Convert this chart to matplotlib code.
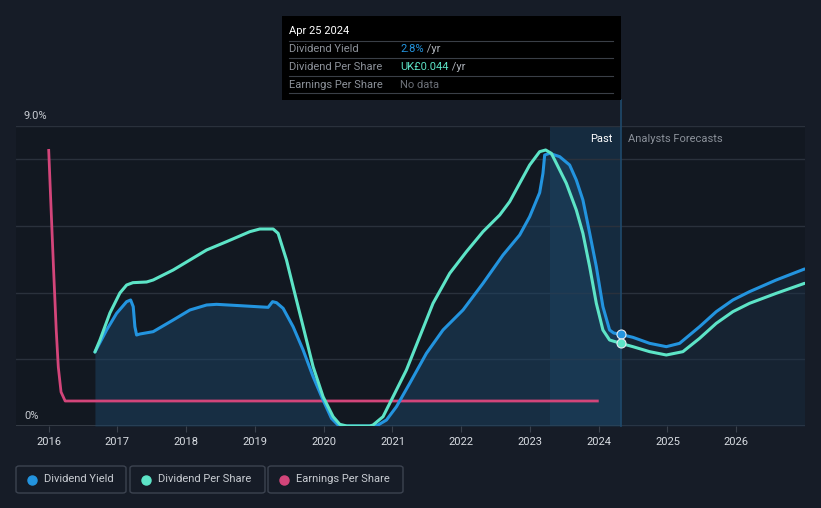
import matplotlib
matplotlib.use("Agg")
import matplotlib.pyplot as plt
from matplotlib.patches import Rectangle, FancyBboxPatch
from matplotlib.lines import Line2D

plt.rcParams['font.family'] = ['Roboto', 'DejaVu Sans']

# ---------------- data ----------------
dy_x = [2016.673, 2016.843, 2016.988, 2017.134, 2017.192, 2017.230, 2017.254, 2017.279, 2017.327,
        2017.520, 2017.811, 2018.054, 2018.297, 2018.442, 2018.781, 2019.192, 2019.256, 2019.314,
        2019.410, 2019.555, 2019.701, 2019.846, 2019.991, 2020.113, 2020.209, 2020.307, 2020.699,
        2020.791, 2020.913, 2021.058, 2021.251, 2021.494, 2021.735, 2022.026, 2022.317, 2022.608,
        2022.850, 2022.996, 2023.141, 2023.189, 2023.214, 2023.286, 2023.432, 2023.577, 2023.674,
        2023.770, 2023.868, 2023.965, 2024.061, 2024.158, 2024.217, 2024.32, 2024.497, 2024.740,
        2024.983, 2025.176, 2025.467, 2025.709, 2025.951, 2026.193, 2026.581, 2026.993]
dy_y = [2.22, 2.88, 3.38, 3.73, 3.78, 3.58, 2.98, 2.73, 2.76,
        2.83, 3.18, 3.48, 3.63, 3.65, 3.61, 3.56, 3.73, 3.70,
        3.53, 2.98, 2.28, 1.48, 0.78, 0.23, 0.03, 0.0, 0.0,
        0.03, 0.18, 0.58, 1.28, 2.18, 2.88, 3.48, 4.28, 5.13,
        5.73, 6.28, 7.0, 7.58, 8.13, 8.18, 8.08, 7.83, 7.38,
        6.78, 5.79, 4.78, 3.58, 2.88, 2.79, 2.75, 2.66, 2.48,
        2.38, 2.48, 2.98, 3.43, 3.78, 4.03, 4.38, 4.71]

dps_x = [2016.673, 2016.746, 2016.891, 2017.036, 2017.134, 2017.225, 2017.424, 2017.520, 2017.811,
         2018.054, 2018.297, 2018.587, 2018.926, 2019.071, 2019.265, 2019.337, 2019.459, 2019.555,
         2019.701, 2019.846, 2019.991, 2020.137, 2020.234, 2020.336, 2020.670, 2020.718, 2020.863,
         2021.009, 2021.203, 2021.397, 2021.590, 2021.833, 2022.076, 2022.317, 2022.560, 2022.705,
         2022.850, 2022.996, 2023.141, 2023.228, 2023.311, 2023.384, 2023.529, 2023.674, 2023.770,
         2023.868, 2023.965, 2024.061, 2024.158, 2024.32, 2024.497, 2024.740, 2024.983, 2025.224,
         2025.467, 2025.709, 2025.951, 2026.193, 2026.581, 2026.993]
dps_y = [2.22, 2.58, 3.39, 3.99, 4.23, 4.30, 4.32, 4.38, 4.68,
         4.98, 5.28, 5.53, 5.83, 5.91, 5.91, 5.78, 4.98, 4.18,
         2.98, 1.78, 0.88, 0.28, 0.05, 0.0, 0.0, 0.03, 0.28,
         0.88, 1.68, 2.68, 3.68, 4.58, 5.23, 5.83, 6.33, 6.73,
         7.28, 7.83, 8.23, 8.28, 8.18, 7.88, 7.28, 6.48, 5.78,
         4.78, 3.68, 2.88, 2.58, 2.48, 2.38, 2.23, 2.13, 2.23,
         2.63, 3.08, 3.43, 3.68, 3.98, 4.28]

eps_x = [2016.0, 2016.03, 2016.07, 2016.11, 2016.14, 2016.18, 2016.24, 2024.0]
eps_y = [8.31, 6.78, 4.77, 2.88, 1.77, 1.02, 0.75, 0.75]

year_ticks = [2016, 2017, 2018, 2019, 2020, 2021, 2022, 2023, 2024, 2025, 2026]
now_x = 2024.32
past_start = 2023.29

legend_labels = ["Dividend Yield", "Dividend Per Share", "Earnings Per Share"]

# ---------------- style ----------------
BG = "#161c27"
AX_BG = "#121821"
BLUE = "#2394df"
TEAL = "#5de4c7"
PINK = "#d3457a"
GRID = "#2a313c"

W, H = 821, 508
fig = plt.figure(figsize=(W / 100, H / 100), dpi=100, facecolor=BG)

def fx(px):
    return px / W

def fy(py):
    return 1 - py / H

L, R, T, B = 16, 805, 126, 426
ax = fig.add_axes([fx(L), fy(B), fx(R) - fx(L), fy(T) - fy(B)])
ax.set_facecolor(AX_BG)
ax.set_xlim(2015.525, 2027.0)
ax.set_ylim(0, 9)

for s in ax.spines.values():
    s.set_visible(False)

for g in [2, 4, 6, 8, 9]:
    ax.axhline(g, color=GRID, lw=1, zorder=1)
ax.axhline(0, color="#3a414c", lw=1.2, zorder=1)

ax.set_yticks([])
ax.set_xticks(year_ticks)
ax.set_xticklabels([str(y) for y in year_ticks], color="#d8dce2", fontsize=8)
ax.tick_params(axis='x', length=4, color="#3a414c", pad=4)

ax.text(2015.525 + 8 / 68.8, 9.15, "9.0%", color="#c8ccd2", fontsize=8, va='bottom', ha='left')
ax.text(2015.525 + 8 / 68.8, 0.15, "0%", color="#c8ccd2", fontsize=8, va='bottom', ha='left')

# past band
ax.axvspan(past_start, now_x, color="#1b4f78", alpha=0.35, lw=0, zorder=0.5)
ax.axvline(now_x, ymin=0, ymax=(B - 100) / (B - T), color="#1f4a6c", lw=1.2,
           clip_on=False, zorder=2)

# fill under dividend yield
n_past = sum(1 for x in dy_x if x <= now_x)
ax.fill_between(dy_x[:n_past], dy_y[:n_past], 0, color="#1d4566", alpha=0.5, lw=0, zorder=1.5)
ax.fill_between(dy_x[n_past - 1:], dy_y[n_past - 1:], 0, color="#1c3148", alpha=0.45, lw=0, zorder=1.5)

ax.plot(eps_x, eps_y, color=PINK, lw=2, zorder=3, solid_capstyle='butt', solid_joinstyle='round')
ax.plot(dy_x, dy_y, color=BLUE, lw=2.2, zorder=4, solid_joinstyle='round', solid_capstyle='round')
ax.plot(dps_x, dps_y, color=TEAL, lw=2.2, zorder=5, solid_joinstyle='round', solid_capstyle='round')

ax.plot([now_x], [dy_y[dy_x.index(now_x)]], 'o', ms=6.5, mfc=BLUE, mec="#e6ecf2", mew=0.8, zorder=6)
ax.plot([now_x], [dps_y[dps_x.index(now_x)]], 'o', ms=6.5, mfc=TEAL, mec="#e6ecf2", mew=0.8, zorder=6)

ax.text(now_x - 0.12, 8.6, "Past", color="#ffffff", fontsize=8, ha='right', va='center')
ax.text(now_x + 0.1, 8.6, "Analysts Forecasts", color="#8a9099", fontsize=8, ha='left', va='center')

# ---------------- tooltip ----------------
fig.patches.append(Rectangle((fx(282), fy(100)), fx(621) - fx(282), fy(16) - fy(100),
                             transform=fig.transFigure, facecolor="#000000", edgecolor="none", zorder=10))
for ly in [41, 58, 76, 93]:
    fig.add_artist(Line2D([fx(289), fx(613)], [fy(ly), fy(ly)], color="#3a3f47", lw=0.8,
                          transform=fig.transFigure, zorder=11))
fig.text(fx(289), fy(31), "Apr 25 2024", color="#ffffff", fontsize=8, va='center', zorder=12)
rows = [("Dividend Yield", 49.5, "2.8%", BLUE, " /yr"),
        ("Dividend Per Share", 67, "UK£0.044", TEAL, " /yr"),
        ("Earnings Per Share", 84.5, "No data", "#6c7078", "")]
for lab, ry, val, col, suf in rows:
    fig.text(fx(289), fy(ry), lab, color="#8d929a", fontsize=8, va='center', zorder=12)
    t = fig.text(fx(400), fy(ry), val, color=col, fontsize=8, va='center', zorder=12)
    if suf:
        fig.canvas.draw()
        bb = t.get_window_extent()
        fig.text(bb.x1 / W, fy(ry), suf, color="#aeb3ba", fontsize=8, va='center', zorder=12)

# ---------------- legend ----------------
boxes = [(16, 126), (130, 265), (268, 403)]
cols = [BLUE, TEAL, PINK]
for (x0, x1), lab, c in zip(boxes, legend_labels, cols):
    fig.patches.append(FancyBboxPatch((fx(x0), fy(493)), fx(x1) - fx(x0), fy(466) - fy(493),
                                      boxstyle="round,pad=0,rounding_size=0.004",
                                      transform=fig.transFigure, facecolor="none",
                                      edgecolor="#3c4350", lw=1))
    fig.add_artist(Line2D([fx(x0 + 16)], [fy(479.5)], marker='o', ms=6.5, color=c, lw=0,
                          transform=fig.transFigure))
    fig.text(fx(x0 + 28), fy(479.5), lab, color="#c8ccd2", fontsize=8, va='center')

fig.savefig("out.png", dpi=100, facecolor=BG)
